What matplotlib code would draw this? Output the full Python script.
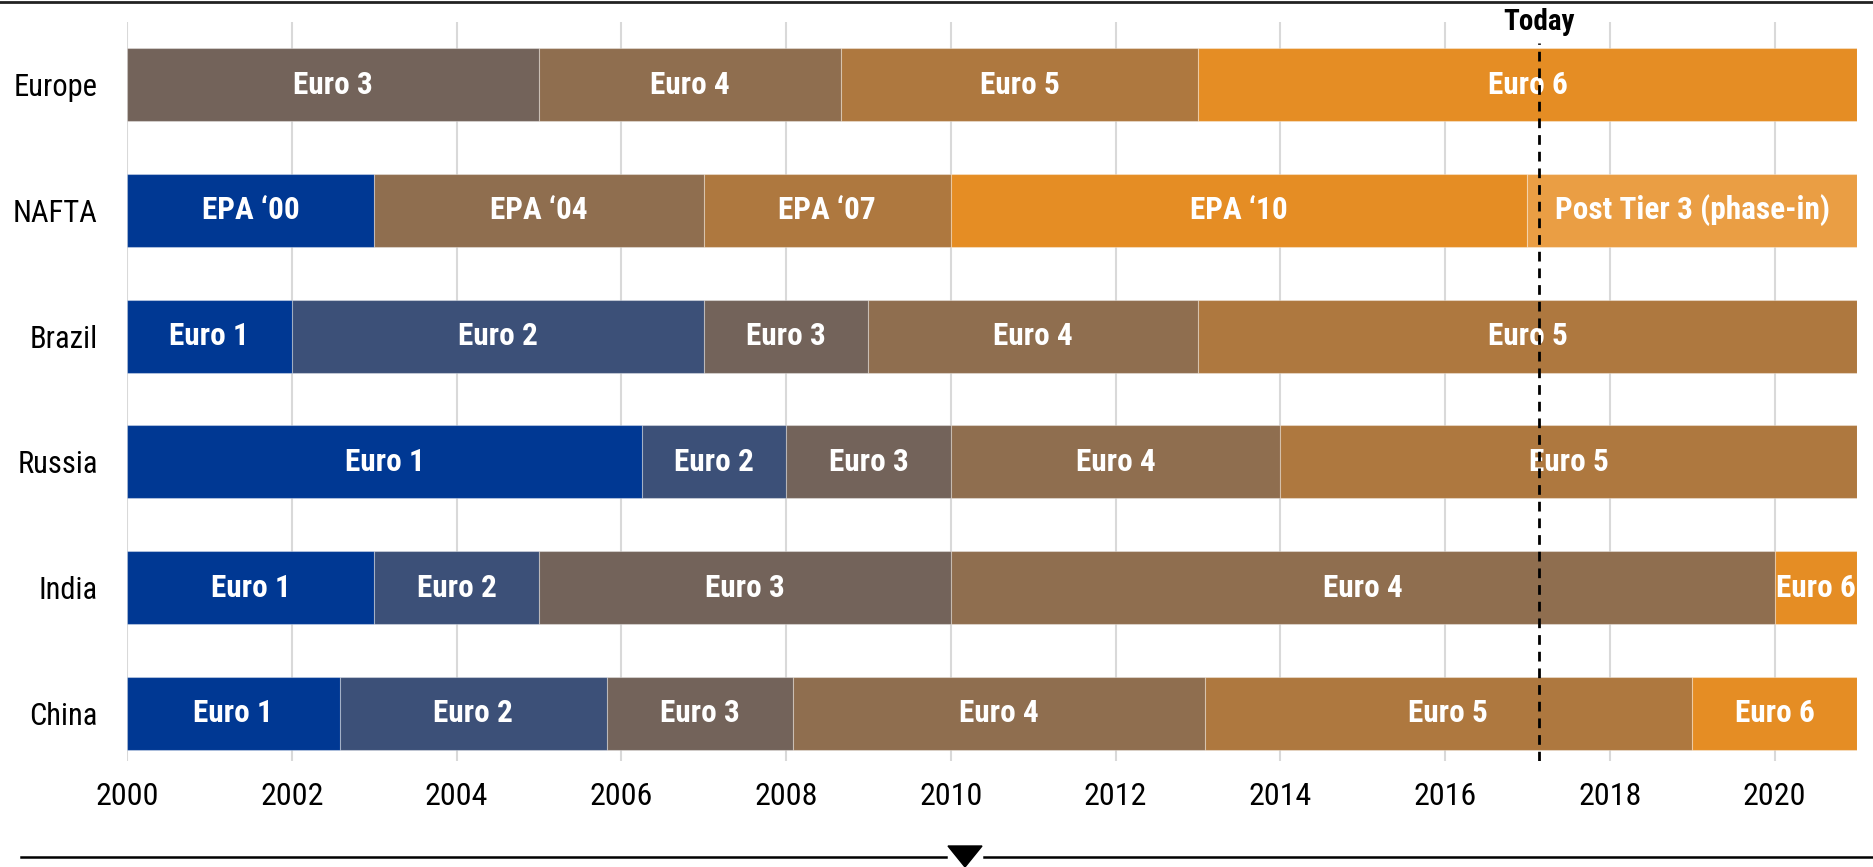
import matplotlib
matplotlib.use("Agg")
import matplotlib.pyplot as plt
from matplotlib.patches import Polygon
from matplotlib.lines import Line2D

# ---------------- data ----------------
regions = ["Europe", "NAFTA", "Brazil", "Russia", "India", "China"]

europe_labels = ["Euro 3", "Euro 4", "Euro 5", "Euro 6"]
europe_breaks = [2000, 2005, 2008.67, 2013, 2021]

nafta_labels = ["EPA \u201800", "EPA \u201804", "EPA \u201807", "EPA \u201810", "Post Tier 3 (phase-in)"]
nafta_breaks = [2000, 2003, 2007, 2010, 2017, 2021]

brazil_labels = ["Euro 1", "Euro 2", "Euro 3", "Euro 4", "Euro 5"]
brazil_breaks = [2000, 2002, 2007, 2009, 2013, 2021]

russia_labels = ["Euro 1", "Euro 2", "Euro 3", "Euro 4", "Euro 5"]
russia_breaks = [2000, 2006.25, 2008, 2010, 2014, 2021]

india_labels = ["Euro 1", "Euro 2", "Euro 3", "Euro 4", "Euro 6"]
india_breaks = [2000, 2003, 2005, 2010, 2020, 2021]

china_labels = ["Euro 1", "Euro 2", "Euro 3", "Euro 4", "Euro 5", "Euro 6"]
china_breaks = [2000, 2002.58, 2005.83, 2008.08, 2013.08, 2019, 2021]

year_ticks = list(range(2000, 2021, 2))
today_year = 2017.14
today_label = "Today"

# ---------------- style ----------------
stage_colors = {
    "Euro 1": "#003893", "EPA \u201800": "#003893",
    "Euro 2": "#3C5078",
    "Euro 3": "#73635A",
    "Euro 4": "#8F6E4F", "EPA \u201804": "#8F6E4F",
    "Euro 5": "#AE783F", "EPA \u201807": "#AE783F",
    "Euro 6": "#E58D24", "EPA \u201810": "#E58D24",
    "Post Tier 3 (phase-in)": "#EA9E44",
}

plt.rcParams["font.family"] = ["Roboto Condensed", "Liberation Sans", "DejaVu Sans"]

W, H = 1873, 867
fig = plt.figure(figsize=(W / 100, H / 100), dpi=100)
ax_left, ax_right = 127 / W, 1857 / W
ax_top, ax_bot = 1 - 22 / H, 1 - 761 / H
ax = fig.add_axes([ax_left, ax_bot, ax_right - ax_left, ax_top - ax_bot])

rows = [
    (europe_labels, europe_breaks),
    (nafta_labels, nafta_breaks),
    (brazil_labels, brazil_breaks),
    (russia_labels, russia_breaks),
    (india_labels, india_breaks),
    (china_labels, china_breaks),
]

bar_h = 0.58
for i, (labs, brks) in enumerate(rows):
    for j, lab in enumerate(labs):
        start, end = brks[j], brks[j + 1]
        ax.barh(i, end - start, left=start, height=bar_h,
                color=stage_colors[lab], edgecolor=(1, 1, 1, 0.35),
                linewidth=0.8, zorder=2)
        ax.text((start + end) / 2, i, lab, ha="center", va="center",
                color="white", fontsize=22.5, fontweight="bold", zorder=4)

ax.set_xlim(2000, 2021)
ax.set_ylim(5.378, -0.497)
ax.set_yticks(range(len(regions)))
ax.set_yticklabels(regions, fontsize=22)
ax.set_xticks(year_ticks)
ax.set_xticklabels([str(y) for y in year_ticks], fontsize=23)
ax.tick_params(axis="both", length=0)
ax.tick_params(axis="x", pad=15)
ax.tick_params(axis="y", pad=21)
ax.grid(axis="x", color="#D9D9D9", linewidth=1.5, zorder=0)
ax.set_axisbelow(True)
for s in ax.spines.values():
    s.set_visible(False)

# today line
ax.axvline(today_year, ymin=0, ymax=1 - 21 / 739, color="black",
           linestyle=(0, (3.5, 2.5)), linewidth=2.0, zorder=5)
ax.text(today_year, -0.497, today_label, ha="center", va="center",
        fontsize=21, fontweight="bold", color="black", zorder=5)

# decorative lines (figure coordinates)
fig.add_artist(Line2D([0, 1], [1 - 1.5 / H, 1 - 1.5 / H], color="#222222", linewidth=2))
yb = 1 - 857 / H
fig.add_artist(Line2D([21 / W, 946 / W], [yb, yb], color="black", linewidth=1.8))
fig.add_artist(Line2D([984 / W, 1.0], [yb, yb], color="black", linewidth=1.8))
tri = Polygon([[948 / W, 1 - 846 / H], [982 / W, 1 - 846 / H], [965 / W, 0.0]],
              closed=True, color="black", transform=fig.transFigure)
fig.add_artist(tri)

fig.savefig("out.png", dpi=100)
